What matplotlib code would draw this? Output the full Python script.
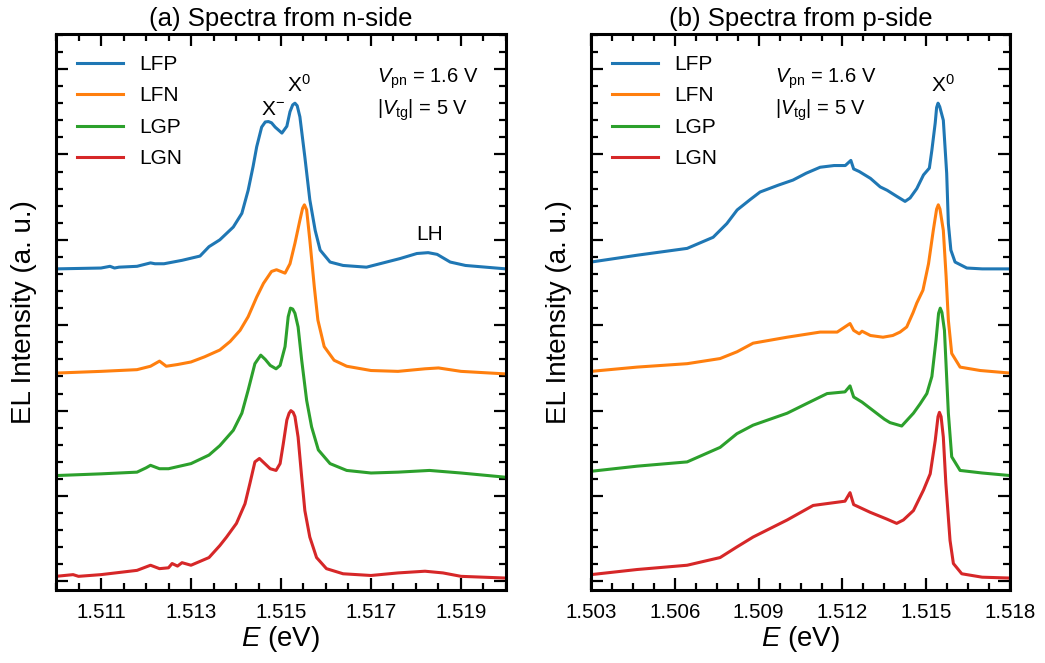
import matplotlib
matplotlib.use('Agg')
import matplotlib.pyplot as plt
from matplotlib.ticker import MultipleLocator, FormatStrFormatter

plt.rcParams['font.family'] = ['Liberation Sans', 'DejaVu Sans']
plt.rcParams['mathtext.fontset'] = 'custom'
plt.rcParams['mathtext.rm'] = 'Liberation Sans'
plt.rcParams['mathtext.it'] = 'Liberation Sans:italic'

labels = ['LFP', 'LFN', 'LGP', 'LGN']
colors = ['#1f77b4', '#ff7f0e', '#2ca02c', '#d62728']

# ---- (a) n-side spectra, curves already offset vertically ----
n_lfp_E = [1.5100, 1.5110, 1.5112, 1.5113, 1.5114, 1.5118, 1.5121, 1.5122, 1.5124, 1.5128,
           1.5132, 1.5134, 1.51364, 1.51394, 1.51413, 1.51427, 1.51438, 1.51446, 1.51457, 1.51465,
           1.51472, 1.51479, 1.51487, 1.51502, 1.51513, 1.5152, 1.51526, 1.51531, 1.51536, 1.51542,
           1.51553, 1.51564, 1.51576, 1.51587, 1.51609, 1.51638, 1.5169, 1.51764, 1.51802, 1.51827,
           1.51847, 1.51876, 1.5191, 1.5200]
n_lfp_I = [3.66, 3.67, 3.69, 3.67, 3.68, 3.69, 3.73, 3.72, 3.72, 3.76,
           3.81, 3.92, 4.00, 4.15, 4.31, 4.58, 4.86, 5.09, 5.32, 5.38,
           5.385, 5.37, 5.32, 5.25, 5.33, 5.50, 5.58, 5.60, 5.57, 5.44,
           4.97, 4.47, 4.11, 3.88, 3.74, 3.70, 3.68, 3.78, 3.84, 3.85,
           3.83, 3.74, 3.70, 3.66]

n_lfn_E = [1.5100, 1.5110, 1.5118, 1.5121, 1.5123, 1.51245, 1.5127, 1.5130, 1.5133, 1.51364,
           1.51387, 1.51409, 1.51427, 1.51446, 1.51461, 1.51479, 1.5149, 1.51509, 1.5152, 1.51531,
           1.51542, 1.51548, 1.51552, 1.51557, 1.51564, 1.51574, 1.51582, 1.51596, 1.51618, 1.51646,
           1.5170, 1.5176, 1.5182, 1.5185, 1.5190, 1.5200]
n_lfn_I = [2.44, 2.46, 2.48, 2.52, 2.58, 2.52, 2.54, 2.57, 2.63, 2.71,
           2.81, 2.94, 3.10, 3.33, 3.49, 3.63, 3.65, 3.61, 3.72, 3.96,
           4.23, 4.37, 4.41, 4.35, 4.00, 3.45, 3.06, 2.75, 2.59, 2.52,
           2.47, 2.46, 2.49, 2.50, 2.46, 2.43]

n_lgp_E = [1.5100, 1.5110, 1.5118, 1.5120, 1.5121, 1.5123, 1.5125, 1.5130, 1.5134, 1.51364,
           1.51394, 1.51413, 1.51427, 1.51442, 1.51455, 1.51465, 1.51476, 1.51489, 1.51498, 1.51509,
           1.51516, 1.51521, 1.51526, 1.51531, 1.51538, 1.51546, 1.51557, 1.51568, 1.51583, 1.51609,
           1.51646, 1.5170, 1.5176, 1.5183, 1.5190, 1.5200]
n_lgp_I = [1.24, 1.26, 1.28, 1.33, 1.36, 1.32, 1.32, 1.38, 1.48, 1.59,
           1.77, 1.97, 2.24, 2.55, 2.65, 2.60, 2.53, 2.49, 2.53, 2.75,
           3.10, 3.20, 3.19, 3.14, 2.98, 2.59, 2.12, 1.81, 1.54, 1.38,
           1.30, 1.27, 1.28, 1.30, 1.27, 1.22]

n_lgn_E = [1.5100, 1.51038, 1.5105, 1.5110, 1.5118, 1.5121, 1.5123, 1.5125, 1.51258, 1.5127,
           1.5128, 1.5130, 1.5134, 1.51364, 1.51379, 1.51401, 1.5142, 1.51431, 1.51442, 1.51452,
           1.51476, 1.51489, 1.51498, 1.51505, 1.51513, 1.51518, 1.51522, 1.51527, 1.51531, 1.51538,
           1.51546, 1.51553, 1.51564, 1.51579, 1.51601, 1.51638, 1.5170, 1.5176, 1.5182, 1.5186,
           1.5190, 1.5200]
n_lgn_I = [0.06, 0.08, 0.06, 0.08, 0.13, 0.19, 0.15, 0.16, 0.21, 0.18,
           0.22, 0.19, 0.28, 0.42, 0.52, 0.68, 0.91, 1.15, 1.40, 1.44,
           1.32, 1.30, 1.38, 1.61, 1.89, 1.97, 2.00, 1.98, 1.93, 1.69,
           1.22, 0.83, 0.52, 0.28, 0.15, 0.09, 0.07, 0.10, 0.12, 0.10,
           0.06, 0.04]

# ---- (b) p-side spectra ----
p_lfp_E = [1.5030, 1.50465, 1.50644, 1.50737, 1.50786, 1.50823, 1.50869, 1.50905, 1.5097, 1.51023,
           1.5107, 1.5112, 1.5117, 1.5121, 1.5123, 1.5124, 1.5126, 1.5130, 1.51335, 1.5136,
           1.51394, 1.51424, 1.51442, 1.51466, 1.5149, 1.51511, 1.5152, 1.51532, 1.51537, 1.51542,
           1.51548, 1.51561, 1.51573, 1.51579, 1.51588, 1.51603, 1.51645, 1.5170, 1.5180]
p_lfp_I = [3.74, 3.82, 3.90, 4.03, 4.19, 4.35, 4.47, 4.56, 4.64, 4.70,
           4.78, 4.85, 4.87, 4.87, 4.93, 4.83, 4.80, 4.72, 4.62, 4.58,
           4.51, 4.45, 4.49, 4.60, 4.76, 4.84, 5.05, 5.37, 5.55, 5.60,
           5.56, 5.40, 4.78, 4.19, 3.88, 3.74, 3.67, 3.66, 3.66]

p_lfn_E = [1.5030, 1.50465, 1.50644, 1.50762, 1.50823, 1.5088, 1.51002, 1.5112, 1.51181, 1.51227,
           1.5124, 1.5126, 1.5127, 1.5130, 1.51345, 1.5138, 1.51406, 1.5143, 1.51453, 1.51466,
           1.51488, 1.51508, 1.51525, 1.51537, 1.51543, 1.51549, 1.51561, 1.51571, 1.51579, 1.51591,
           1.51621, 1.51693, 1.5180]
p_lfn_I = [2.46, 2.51, 2.55, 2.61, 2.69, 2.79, 2.86, 2.92, 2.92, 3.02,
           2.94, 2.90, 2.93, 2.88, 2.86, 2.88, 2.92, 2.98, 3.15, 3.26,
           3.41, 3.72, 4.11, 4.36, 4.41, 4.36, 4.11, 3.57, 3.06, 2.67,
           2.51, 2.47, 2.44]

p_lgp_E = [1.5030, 1.50465, 1.50644, 1.50762, 1.50822, 1.5088, 1.51002, 1.5107, 1.51145, 1.51209,
           1.51227, 1.5124, 1.5127, 1.5131, 1.5135, 1.5137, 1.51412, 1.51454, 1.51478, 1.51502,
           1.5152, 1.51535, 1.51544, 1.5155, 1.51556, 1.51565, 1.51579, 1.51591, 1.51621, 1.5170,
           1.5180]
p_lgp_I = [1.29, 1.35, 1.40, 1.57, 1.73, 1.83, 1.97, 2.08, 2.20, 2.22,
           2.29, 2.16, 2.10, 2.00, 1.90, 1.86, 1.82, 1.97, 2.08, 2.20,
           2.40, 2.83, 3.14, 3.20, 3.15, 2.94, 1.97, 1.46, 1.30, 1.27,
           1.24]

p_lgn_E = [1.5030, 1.50465, 1.50644, 1.50762, 1.5082, 1.5088, 1.51002, 1.51095, 1.51209, 1.51227,
           1.5124, 1.51299, 1.51359, 1.51394, 1.51418, 1.51454, 1.5149, 1.51514, 1.51532, 1.51542,
           1.51547, 1.51553, 1.51561, 1.5157, 1.51585, 1.51597, 1.51627, 1.5170, 1.5180]
p_lgn_I = [0.08, 0.14, 0.19, 0.28, 0.40, 0.52, 0.72, 0.89, 0.94, 1.04,
           0.90, 0.81, 0.73, 0.68, 0.72, 0.83, 1.07, 1.26, 1.65, 1.93,
           1.98, 1.93, 1.69, 1.15, 0.48, 0.21, 0.09, 0.05, 0.04]

n_xticks = [1.511, 1.513, 1.515, 1.517, 1.519]
p_xticks = [1.503, 1.506, 1.509, 1.512, 1.515, 1.518]

n_series = [(n_lfp_E, n_lfp_I), (n_lfn_E, n_lfn_I), (n_lgp_E, n_lgp_I), (n_lgn_E, n_lgn_I)]
p_series = [(p_lfp_E, p_lfp_I), (p_lfn_E, p_lfn_I), (p_lgp_E, p_lgp_I), (p_lgn_E, p_lgn_I)]

fig = plt.figure(figsize=(10.45, 6.63), dpi=100)
ax1 = fig.add_axes([0.0536, 0.1101, 0.4306, 0.8386])
ax2 = fig.add_axes([0.5656, 0.1101, 0.4010, 0.8386])


def style(ax, xlim, xticks, xminor, title, txt_x):
    ax.set_xlim(*xlim)
    ax.set_ylim(-0.1, 6.41)
    ax.set_xticks(xticks)
    ax.xaxis.set_minor_locator(MultipleLocator(xminor))
    ax.xaxis.set_major_formatter(FormatStrFormatter('%.3f'))
    ax.yaxis.set_major_locator(MultipleLocator(1))
    ax.yaxis.set_minor_locator(MultipleLocator(0.2))
    ax.tick_params(which='both', direction='in', top=True, right=True,
                   width=1.6, labelsize=14.8, pad=9, labelleft=False)
    ax.tick_params(which='major', length=8.5)
    ax.tick_params(which='minor', length=5)
    for s in ax.spines.values():
        s.set_linewidth(2.2)
    ax.set_title(title, fontsize=18.5, pad=6)
    ax.set_xlabel(r'$E$ (eV)', fontsize=20, labelpad=2)
    ax.set_ylabel('EL Intensity (a. u.)', fontsize=20, labelpad=14)
    ax.legend(loc='upper left', frameon=False, fontsize=15, handlelength=2.2,
              handletextpad=0.8, labelspacing=0.6, borderaxespad=0.6)
    ax.text(txt_x, 0.912, r'$V_{\mathrm{pn}}$ = 1.6 V', transform=ax.transAxes,
            fontsize=14.5, ha='left', va='baseline')
    ax.text(txt_x, 0.854, r'|$V_{\mathrm{tg}}$| = 5 V', transform=ax.transAxes,
            fontsize=14.5, ha='left', va='baseline')


for (E, I), lab, c in zip(n_series, labels, colors):
    ax1.plot(E, I, color=c, lw=2.2, label=lab)
for (E, I), lab, c in zip(p_series, labels, colors):
    ax2.plot(E, I, color=c, lw=2.2, label=lab)

style(ax1, (1.510, 1.520), n_xticks, 0.0005, '(a) Spectra from n-side', 0.713)
style(ax2, (1.503, 1.518), p_xticks, 0.00075, '(b) Spectra from p-side', 0.439)

ax1.text(1.51456, 5.46, r'X$^{-}$', fontsize=15, ha='left', va='baseline')
ax1.text(1.51513, 5.73, r'X$^{0}$', fontsize=15, ha='left', va='baseline')
ax1.text(1.5183, 4.0, 'LH', fontsize=15, ha='center', va='baseline')
ax2.text(1.51517, 5.73, r'X$^{0}$', fontsize=15, ha='left', va='baseline')

fig.savefig('out.png', dpi=100)
